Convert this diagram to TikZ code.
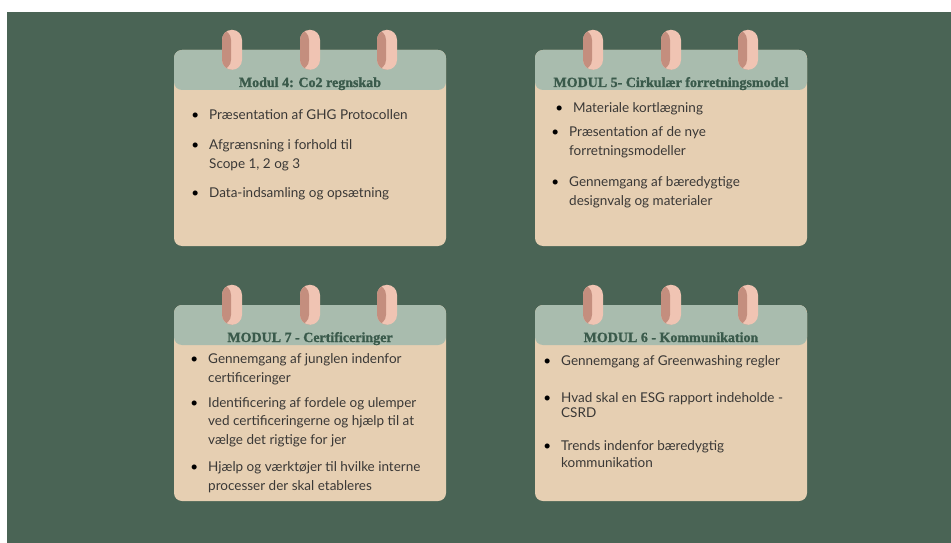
\documentclass[tikz,border=0pt]{standalone}
\usepackage{fontspec}
\setmainfont{Lato}
\newfontfamily\headfont{Liberation Serif}[BoldFeatures={FakeBold=1.2}]
\usetikzlibrary{positioning}

\definecolor{board}{HTML}{4A6455}
\definecolor{headcol}{HTML}{A9BCAE}
\definecolor{bodycol}{HTML}{E6CFB2}
\definecolor{pinlight}{HTML}{F0C4B3}
\definecolor{pindark}{HTML}{C48E7E}
\definecolor{titlecol}{HTML}{3A5A4B}
\definecolor{textcol}{HTML}{3A3836}

\newcommand\bul{\llap{\textcolor{black}{\textbullet}\hspace{10pt}}}

\tikzset{
  card/.style={rectangle, rounded corners=8pt, minimum width=272pt, minimum height=196pt,
    inner sep=0pt, fill=bodycol,
    path picture={\fill[headcol] (path picture bounding box.north west) rectangle
      ([yshift=-40pt]path picture bounding box.north east);}},
  pin/.style={rectangle, rounded corners=10pt, minimum width=20pt, minimum height=40pt,
    inner sep=0pt, fill=pinlight,
    path picture={\fill[pindark] (path picture bounding box.south west) rectangle
      ([xshift=-1pt]path picture bounding box.north);}},
  title/.style={font=\headfont\bfseries\fontsize{14}{14}\selectfont, text=titlecol,
    anchor=base, inner sep=0pt},
  item/.style={font=\fontsize{13.5}{18.5}\selectfont, text=textcol, align=left,
    anchor=base west, inner sep=0pt},
}

\begin{document}
\begin{tikzpicture}[x=1pt, y=-1pt]
    \fill[white] (0, 0) rectangle (951, 543);
    \fill[board] (7, 12) rectangle (951, 543);

    % cards
    \node[card] (m4) at (310, 148) {};
    \node[card] (m5) at (671, 148) {};
    \node[card] (m7) at (310, 403) {};
    \node[card] (m6) at (671, 403) {};

    \foreach \c in {m4, m5, m7, m6}
        \foreach \dx/\p in {-78/a, 0/b, 77/c}
            \node[pin] (\c pin\p) at ([xshift=\dx pt]\c.north) {};

    % titles
    \node[title] (m4title) at (310, 87) {Modul 4: Co2 regnskab};
    \node[title] (m5title) at (671, 87) {MODUL 5- Cirkulær forretningsmodel};
    \node[title] (m7title) at (310, 342) {MODUL 7 - Certificeringer};
    \node[title] (m6title) at (671, 342) {MODUL 6 - Kommunikation};

    % modul 4 (base = last line)
    \node[item] (m4a) at (209, 120) {\bul Præsentation af GHG Protocollen};
    \node[item] (m4b) at (209, 168) {\bul Afgrænsning i forhold til\\Scope 1, 2 og 3};
    \node[item] (m4c) at (209, 197) {\bul Data-indsamling og opsætning};

    % modul 5
    \node[item] (m5a) at (573, 112) {\bul Materiale kortlægning};
    \node[item] (m5b) at (569, 155) {\bul Præsentation af de nye\\forretningsmodeller};
    \node[item] (m5c) at (569, 205) {\bul Gennemgang af bæredygtige\\designvalg og materialer};

    % modul 7
    \node[item] (m7a) at (208, 382) {\bul Gennemgang af junglen indenfor\\certificeringer};
    \node[item] (m7b) at (208, 444) {\bul Identificering af fordele og ulemper\\ved certificeringerne og hjælp til at\\vælge det rigtige for jer};
    \node[item] (m7c) at (208, 490) {\bul Hjælp og værktøjer til hvilke interne\\processer der skal etableres};

    % modul 6
    \node[item] (m6a) at (561, 365) {\bul Gennemgang af Greenwashing regler};
    \node[item] (m6b) at (561, 417) {\bul Hvad skal en ESG rapport indeholde -\\[-4pt]CSRD};
    \node[item] (m6c) at (561, 467) {\bul Trends indenfor bæredygtig\\[-1.5pt]kommunikation};
\end{tikzpicture}
\end{document}
